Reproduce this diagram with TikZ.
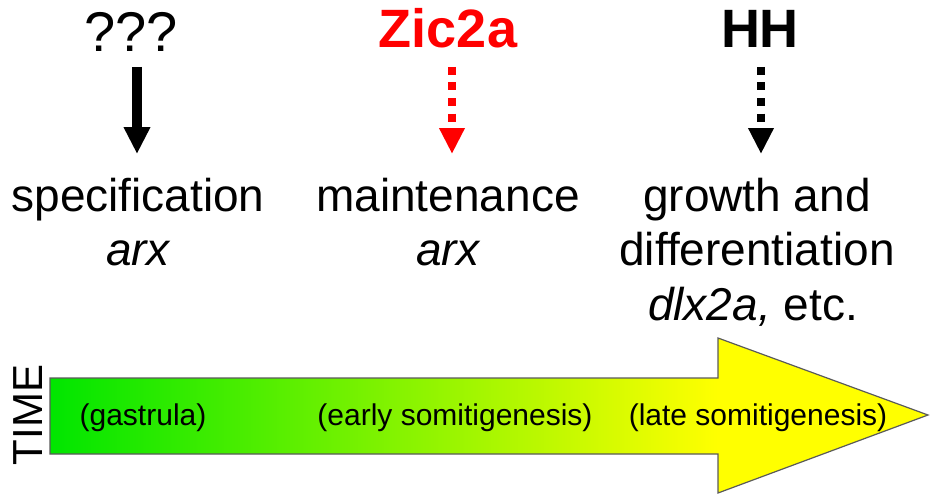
\documentclass[tikz,border=0pt]{standalone}
\usepackage{fontspec}
\setmainfont{Liberation Sans}
\usetikzlibrary{arrows.meta}
\definecolor{tgreen}{RGB}{0,230,0}
\definecolor{tyellow}{RGB}{255,255,0}
\definecolor{outl}{RGB}{90,90,90}
\pgfdeclarehorizontalshading{timegrad}{100bp}{color(0bp)=(tgreen); color(25bp)=(tgreen); color(63bp)=(tyellow); color(100bp)=(tyellow)}
\tikzset{
  big/.style={font=\fontsize{54}{60}\selectfont, inner sep=0pt, anchor=base},
  body/.style={font=\fontsize{46}{54}\selectfont, inner sep=0pt, anchor=base},
  stage/.style={font=\fontsize{30}{36}\selectfont, inner sep=0pt, anchor=base},
  solidarrow/.style={line width=10pt, -{Triangle[width=25pt,length=27pt]}},
  dotarrow/.style={line width=8pt, dash pattern=on 8pt off 7.5pt, -{Triangle[width=24pt,length=26pt]}},
}
\begin{document}
\begin{tikzpicture}[x=1pt, y=-1pt]
\path[use as bounding box] (0,0) rectangle (932,495);
% top labels
\node[big, font=\fontsize{56}{60}\selectfont] (q) at (131,52) {???};
\node[big, text=red, font=\fontsize{54}{60}\selectfont\bfseries] (zic) at (448,48) {Zic2a};
\node[big, font=\fontsize{54}{60}\selectfont\bfseries] (hh) at (760,48) {HH};
% arrows
\coordinate (a1s) at (137,67); \coordinate (a1e) at (137,154);
\coordinate (a2s) at (452,67); \coordinate (a2e) at (452,154);
\coordinate (a3s) at (761,67); \coordinate (a3e) at (761,154);
\draw[solidarrow] (a1s) -- (a1e);
\draw[dotarrow, red] (a2s) -- (a2e);
\draw[dotarrow, black] (a3s) -- (a3e);
% body labels
\node[body] (spec) at (138,211) {specification};
\node[body] (arx1) at (138,265) {\itshape arx};
\node[body] (maint) at (448,211) {maintenance};
\node[body] (arx2) at (448,265) {\itshape arx};
\node[body] (grow) at (757,211) {growth and};
\node[body] (diff) at (757,265) {differentiation};
\node[body] (dlx) at (753,320) {\textit{dlx2a,} etc.};
% time arrow
\shadedraw[shading=timegrad, draw=outl, line width=1.2pt]
  (50,378) -- (718,378) -- (718,338) -- (928,415) -- (718,493) -- (718,454) -- (50,454) -- cycle;
\node[stage] (g) at (143,425) {(gastrula)};
\node[stage] (es) at (455,425) {(early somitigenesis)};
\node[stage] (ls) at (758,425) {(late somitigenesis)};
\node[font=\fontsize{42}{48}\selectfont, inner sep=0pt, anchor=base, rotate=90] (time) at (42,415) {TIME};
\end{tikzpicture}
\end{document}
